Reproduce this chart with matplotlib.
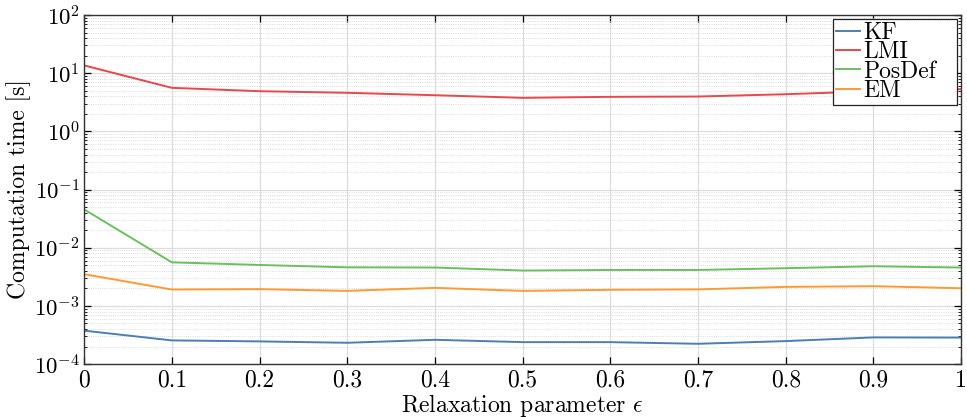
import matplotlib
matplotlib.use("Agg")
import matplotlib.pyplot as plt
from matplotlib.ticker import LogLocator, FixedLocator, FixedFormatter, NullFormatter

plt.rcParams["font.family"] = "serif"
plt.rcParams["font.serif"] = ["cmr10"]
plt.rcParams["mathtext.fontset"] = "cm"
plt.rcParams["axes.formatter.use_mathtext"] = True
plt.rcParams["axes.unicode_minus"] = False

# relaxation parameter values
eps = [0.0, 0.1, 0.2, 0.3, 0.4, 0.5, 0.6, 0.7, 0.8, 0.9, 1.0]

# computation times [s]
kf = [3.75e-4, 2.55e-4, 2.45e-4, 2.32e-4, 2.61e-4, 2.38e-4, 2.38e-4, 2.23e-4, 2.48e-4, 2.87e-4, 2.85e-4]
lmi = [13.6, 5.6, 4.9, 4.6, 4.18, 3.77, 3.92, 3.97, 4.35, 4.9, 5.3]
posdef = [4.56e-2, 5.6e-3, 5.05e-3, 4.6e-3, 4.56e-3, 4.05e-3, 4.14e-3, 4.14e-3, 4.44e-3, 4.8e-3, 4.56e-3]
em = [3.5e-3, 1.91e-3, 1.94e-3, 1.81e-3, 2.04e-3, 1.81e-3, 1.89e-3, 1.92e-3, 2.12e-3, 2.18e-3, 2.01e-3]

series_names = ["KF", "LMI", "PosDef", "EM"]
series_colors = ["#4c7fb0", "#e8474b", "#6cbf60", "#ff9a33"]

xtick_vals = [0, 0.1, 0.2, 0.3, 0.4, 0.5, 0.6, 0.7, 0.8, 0.9, 1]
xtick_labels = ["0", "0.1", "0.2", "0.3", "0.4", "0.5", "0.6", "0.7", "0.8", "0.9", "1"]

fig = plt.figure(figsize=(9.67, 4.17), dpi=100)
ax = fig.add_axes([0.087, 0.127, 0.907, 0.837])

for vals, name, col in zip([kf, lmi, posdef, em], series_names, series_colors):
    ax.plot(eps, vals, color=col, lw=1.4, label=name)

ax.set_yscale("log")
ax.set_ylim(1e-4, 1e2)
ax.set_xlim(0, 1)

ax.xaxis.set_major_locator(FixedLocator(xtick_vals))
ax.xaxis.set_major_formatter(FixedFormatter(xtick_labels))
ax.yaxis.set_major_locator(LogLocator(base=10, numticks=10))
ax.yaxis.set_minor_locator(LogLocator(base=10, subs=range(2, 10), numticks=20))
ax.yaxis.set_minor_formatter(NullFormatter())

ax.tick_params(which="both", direction="in", top=True, right=True)
ax.tick_params(axis="x", pad=4, labelsize=17)
ax.tick_params(axis="y", pad=3, labelsize=16.5)
ax.tick_params(which="major", length=5, width=0.9)
ax.tick_params(which="minor", length=2.5, width=0.6)

ax.grid(True, which="major", color="#dddddd", lw=0.9, ls="-")
ax.grid(True, which="minor", axis="y", color="#d0d0d0", lw=0.6, ls=":")
ax.set_axisbelow(True)

for sp in ax.spines.values():
    sp.set_color("#333333")
    sp.set_linewidth(1.0)

ax.set_xlabel(r"Relaxation parameter $\epsilon$", fontsize=17, labelpad=0)
ax.set_ylabel("Computation time [s]", fontsize=17, labelpad=2)

# legend box spanning a fixed width in the upper right corner
leg = ax.legend(loc="upper right", bbox_to_anchor=(0.854, 0.5, 0.1414, 0.4885),
                mode="expand", fontsize=17, frameon=True, fancybox=False,
                framealpha=1.0, edgecolor="#222222", borderpad=0.12,
                labelspacing=-0.12, handlelength=1.0, handletextpad=0.15,
                borderaxespad=0.0)
leg.get_frame().set_linewidth(0.9)

fig.savefig("out.png", dpi=100)
